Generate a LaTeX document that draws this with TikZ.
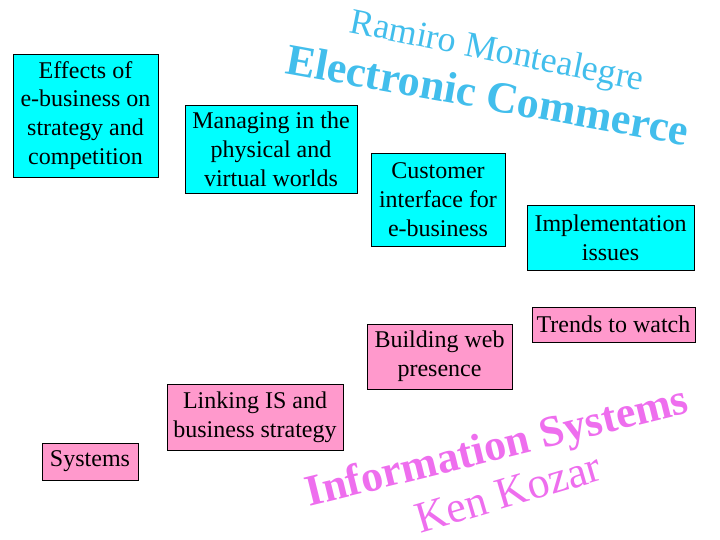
\documentclass[tikz,border=0pt]{standalone}
\usepackage{fontspec}
\setmainfont{Liberation Serif}
\usepackage{tikz}
\usetikzlibrary{positioning}

\definecolor{topiccyan}{RGB}{0,255,255}
\definecolor{topicpink}{RGB}{255,153,204}
\definecolor{titleblue}{RGB}{66,190,236}
\definecolor{authorpink}{RGB}{238,110,238}

\begin{document}
\begin{tikzpicture}
[ x=1pt, y=-1pt,
		topic/.style={rectangle,draw=black,line width=0.8pt,align=center,inner sep=2pt,font=\fontsize{24}{28.8}\selectfont},
		ecom/.style={topic,fill=topiccyan},
		infosys/.style={topic,fill=topicpink},
		heading/.style={anchor=base,inner sep=0pt,font=\fontsize{44}{48}\selectfont\bfseries},
		byline/.style={anchor=base,inner sep=0pt,font=\fontsize{36}{40}\selectfont}]
	\useasboundingbox (0,0) rectangle (720,540);

	% course titles
	\node[byline,text=titleblue,rotate=-11.3] (ramiro) at (495,61.5) {Ramiro Montealegre};
	\node[heading,text=titleblue,rotate=-10.2] (electronic) at (485,109.5) {Electronic Commerce};
	\node[heading,text=authorpink,rotate=13.9] (information) at (500,459.5) {Information Systems};
	\node[heading,text=authorpink,rotate=16.4,font=\fontsize{44}{48}\selectfont\mdseries] (kozar) at (512,506.5) {Ken Kozar};

	% e-commerce topics
	\node[ecom,minimum width=145pt,minimum height=123pt] (effects) at (85.5,115.5) {Effects of\\e-business on\\strategy and\\competition};
	\node[ecom,minimum width=172pt,minimum height=88pt] (managing) at (271,149) {Managing in the\\physical and\\virtual worlds};
	\node[ecom,minimum width=134pt,minimum height=93pt] (customer) at (438,199.5) {Customer\\interface for\\e-business};
	\node[ecom,minimum width=167pt,minimum height=65pt] (implementation) at (610.5,237.5) {Implementation\\issues};

	% information systems topics
	\node[infosys,minimum width=163pt,minimum height=35pt] (trends) at (613.5,324.5) {Trends to watch};
	\node[infosys,minimum width=145pt,minimum height=65pt] (building) at (439.5,356.5) {Building web\\presence};
	\node[infosys,minimum width=176pt,minimum height=66pt] (linking) at (255,417) {Linking IS and\\business strategy};
	\node[infosys,minimum width=96pt,minimum height=37pt] (systems) at (90,461.5) {Systems};
\end{tikzpicture}
\end{document}
